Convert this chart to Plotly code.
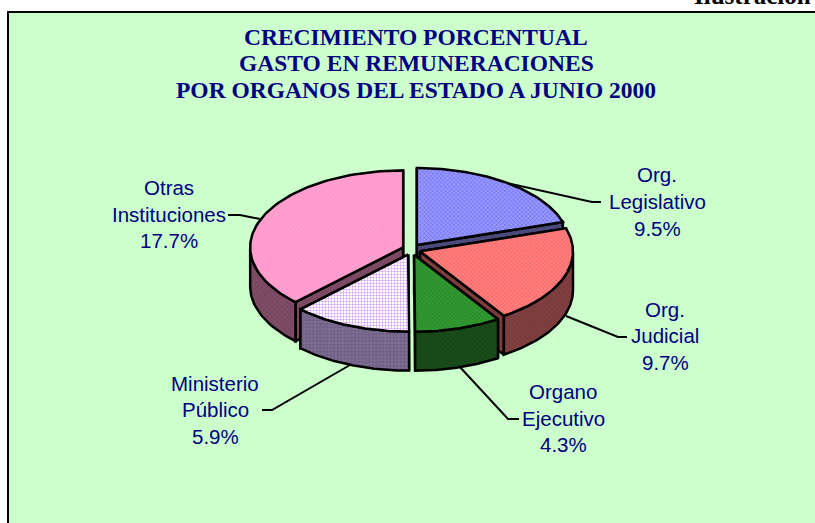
import numpy as np
import plotly.graph_objects as go

W, H = 815, 523

# --- data ---
categories = ["Org. Legislativo", "Org. Judicial", "Organo Ejecutivo", "Ministerio Público", "Otras Instituciones"]
values = [9.5, 9.7, 4.3, 5.9, 17.7]
label_lines = [["Org.", "Legislativo", "9.5%"],
               ["Org.", "Judicial", "9.7%"],
               ["Organo", "Ejecutivo", "4.3%"],
               ["Ministerio", "Público", "5.9%"],
               ["Otras", "Instituciones", "17.7%"]]
title_lines = ["CRECIMIENTO PORCENTUAL", "GASTO EN REMUNERACIONES", "POR ORGANOS DEL ESTADO A JUNIO 2000"]

# --- styling and geometry ---
top_colors = ["#9999FF", "#FF8080", "#339933", "#FFFFFF", "#FF99CC"]
top_fg = ["#5050E8", "#F05050", "#1E7A1E", "#C070F0", "#FFB0D8"]
side_colors = ["#4D4D80", "#804040", "#1A4D1A", "#807090", "#804D66"]
side_fg = ["#3A3A66", "#6A3030", "#0F3A0F", "#5A4A80", "#6A3A52"]
shapes_pat = ["x", "x", "x", "+", "x"]
cx, cy, a, b, depth = 411.5, 249.5, 153.0, 77.0, 39.0
ex_a, ex_b = 9.0, 5.5
outline = 2.5

label_x = [657, 665, 563, 215, 169]
label_y = [[174, 201, 228], [309, 335, 362], [391, 418, 444], [383, 409, 436], [187, 214, 240]]
leaders = [[(507, 183), (592, 202), (601, 202)],
           [(566, 316), (618, 337), (627, 337)],
           [(459, 366), (508, 419), (519, 419)],
           [(350, 365), (272, 410), (262, 410)],
           [(260, 219), (240, 215), (228, 215)]]

fig = go.Figure()


def poly(xs, ys, color, fg, shape, size=3.5):
    fig.add_trace(go.Scatter(
        x=list(xs), y=list(ys), mode="lines", fill="toself",
        fillcolor=color,
        fillpattern=dict(shape=shape, size=size, solidity=0.25, fgcolor=fg, bgcolor=color, fillmode="replace"),
        line=dict(color="black", width=outline), hoverinfo="skip", showlegend=False))


# cumulative angles, clockwise from the top
total = sum(values)
edges = np.concatenate([[0], np.cumsum(values)]) / total * 2 * np.pi
geom = []
for i in range(len(values)):
    t0, t1 = edges[i], edges[i + 1]
    mid = (t0 + t1) / 2
    ax = cx + ex_a * np.sin(mid)
    ay = cy - ex_b * np.cos(mid)
    th = np.linspace(t0, t1, 80)
    geom.append((ax, ay, th, t0, t1))

# painter's order: back slices first
for i in [0, 4, 1, 3, 2]:
    ax, ay, th, t0, t1 = geom[i]
    ex = ax + a * np.sin(th)
    ey = ay - b * np.cos(th)
    # radial walls
    for t in (t0, t1):
        px, py = ax + a * np.sin(t), ay - b * np.cos(t)
        poly([ax, px, px, ax, ax], [ay, py, py + depth, ay + depth, ay], side_colors[i], side_fg[i], shapes_pat[i])
    # outer wall, front-facing part only
    mask = np.cos(th) <= 0
    if mask.any():
        fx, fy = ex[mask], ey[mask]
        poly(np.r_[fx, fx[::-1], fx[0]], np.r_[fy, fy[::-1] + depth, fy[0]], side_colors[i], side_fg[i], shapes_pat[i])
    # top face
    poly(np.r_[ax, ex, ax], np.r_[ay, ey, ay], top_colors[i], top_fg[i], shapes_pat[i], 3.0)

for pts in leaders:
    fig.add_trace(go.Scatter(x=[p[0] for p in pts], y=[p[1] for p in pts], mode="lines",
                             line=dict(color="black", width=2), hoverinfo="skip", showlegend=False))

ann = []
for lines, lx, ys in zip(label_lines, label_x, label_y):
    for txt, y in zip(lines, ys):
        ann.append(dict(x=lx, y=y, text=txt, showarrow=False, xanchor="center", yanchor="middle",
                        font=dict(family="Liberation Sans", size=20.5, color="#000080")))
for txt, y in zip(title_lines, [37, 63, 90]):
    ann.append(dict(x=416, y=y, text=f"<b>{txt}</b>", showarrow=False, xanchor="center", yanchor="middle",
                    font=dict(family="Liberation Serif", size=23.5, color="#000080")))
ann.append(dict(x=813, y=11, text="<b>Ilustración</b>", showarrow=False, xanchor="right", yanchor="bottom",
                font=dict(family="Liberation Serif", size=25, color="black")))

fig.update_layout(
    width=W, height=H, margin=dict(l=0, r=0, t=0, b=0), paper_bgcolor="white", plot_bgcolor="white",
    xaxis=dict(range=[0, W], visible=False, fixedrange=True),
    yaxis=dict(range=[H, 0], visible=False, fixedrange=True),
    annotations=ann,
    shapes=[dict(type="rect", x0=8, y0=12, x1=W + 5, y1=H + 5, fillcolor="#CCFFCC",
                 line=dict(color="black", width=2), layer="below")],
)
fig.write_html("out.html", config=dict(displayModeBar=False),
               post_script="document.body.style.margin='0';document.body.style.overflow='hidden';")
